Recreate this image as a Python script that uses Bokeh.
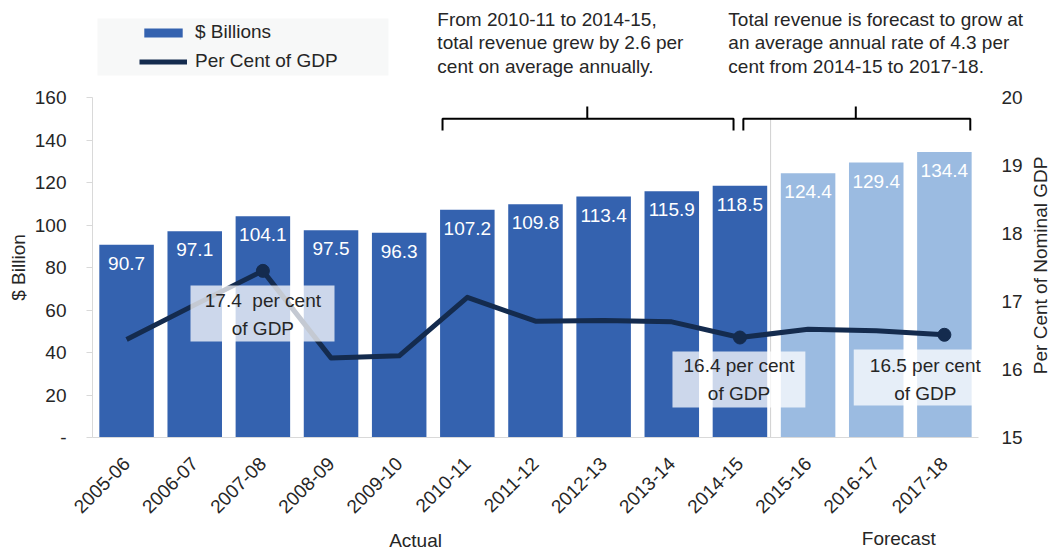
import math
from bokeh.plotting import figure
from bokeh.models import (Range1d, LinearAxis, FixedTicker, ColumnDataSource,
                          Legend, LegendItem)
from bokeh.core.properties import value
from bokeh.embed import file_html
from bokeh.resources import INLINE

# ---------------- data ----------------
years = ["2005-06", "2006-07", "2007-08", "2008-09", "2009-10", "2010-11", "2011-12",
         "2012-13", "2013-14", "2014-15", "2015-16", "2016-17", "2017-18"]
revenue = [90.7, 97.1, 104.1, 97.5, 96.3, 107.2, 109.8, 113.4, 115.9, 118.5, 124.4, 129.4, 134.4]
pct_gdp = [16.44, 16.95, 17.45, 16.17, 16.20, 17.06, 16.71, 16.72, 16.70, 16.47, 16.59, 16.57, 16.51]
forecast = [False] * 10 + [True] * 3
left_ticks = [0, 20, 40, 60, 80, 100, 120, 140, 160]
right_ticks = [15, 16, 17, 18, 19, 20]
marked_points = [2, 9, 12]
box_texts = ["17.4\u00a0 per cent\nof GDP", "16.4 per cent\nof GDP", "16.5 per cent\nof GDP"]
note_texts = ["From 2010-11 to 2014-15,\ntotal revenue grew by 2.6 per\ncent on average annually.",
              "Total revenue is forecast to grow at\nan average annual rate of 4.3 per\ncent from 2014-15 to 2017-18."]
section_labels = ["Actual", "Forecast"]
left_title = "$ Billion"
right_title = "Per Cent of Nominal GDP"

# ---------------- style ----------------
FONT = "Liberation Sans"
TXT = "#262626"
ACTUAL = "#3462AF"
FCAST = "#9BBBE1"
NAVY = "#142B4E"
GRID = "#D9D9D9"
FS = "19px"

x = list(range(len(years)))
src = ColumnDataSource(dict(
    x=x, revenue=revenue, pct=pct_gdp,
    color=[FCAST if f else ACTUAL for f in forecast],
    label=[f"{v:.1f}" for v in revenue],
))

# frame covers the whole canvas; axes are pinned with fixed_location
p = figure(width=1050, height=554, output_backend="svg", toolbar_location=None,
           x_range=Range1d(-1.85, 13.557), y_range=Range1d(-55.06, 205.65),
           min_border=0, background_fill_color="white")
p.outline_line_color = None
p.xgrid.visible = False
p.ygrid.visible = False
p.extra_y_ranges = {"pct": Range1d(13.279, 21.426)}

# left axis
ya = p.yaxis[0]
ya.fixed_location = -0.5
ya.ticker = FixedTicker(ticks=left_ticks)
ya.major_label_overrides = {0: "-"}
ya.bounds = (0, 160)
ya.axis_line_color = GRID
ya.major_tick_line_color = GRID
ya.major_tick_out = 6
ya.major_tick_in = 0
ya.minor_tick_line_color = None
ya.major_label_standoff = 20
ya.major_label_text_font = FONT
ya.major_label_text_font_size = FS
ya.major_label_text_color = TXT

# bottom axis
xa = p.xaxis[0]
xa.fixed_location = 0
xa.bounds = (-0.5, 12.5)
xa.ticker = FixedTicker(ticks=x)
xa.major_label_overrides = {i: y for i, y in enumerate(years)}
xa.major_label_orientation = math.pi / 4
xa.axis_line_color = GRID
xa.major_tick_line_color = None
xa.minor_tick_line_color = None
xa.major_label_standoff = 17
xa.major_label_text_font = FONT
xa.major_label_text_font_size = FS
xa.major_label_text_color = TXT

# right axis
ra = LinearAxis(y_range_name="pct", ticker=FixedTicker(ticks=right_ticks),
                fixed_location=12.5, bounds=(15, 20))
ra.axis_line_color = None
ra.major_tick_line_color = None
ra.minor_tick_line_color = None
ra.major_label_standoff = 17
ra.major_label_text_font = FONT
ra.major_label_text_font_size = FS
ra.major_label_text_color = TXT
p.add_layout(ra, "right")

# legend background panel
p.quad(left=[-0.427], right=[3.843], top=[197.2], bottom=[170.4],
       fill_color="#F7F8F8", line_color=None)

# separator between actual and forecast
p.segment(x0=[9.45], y0=[0], x1=[9.45], y1=[150], line_color="#D0D0D0", line_width=1)

# bars
bars = p.vbar(x="x", top="revenue", width=0.8, fill_color="color", line_color=None, source=src)
p.text(x="x", y="revenue", text="label", source=src, text_color="white",
       text_align="center", text_baseline="top", y_offset=12,
       text_font=value(FONT), text_font_size=FS)

# line
line = p.line(x="x", y="pct", y_range_name="pct", source=src, line_color=NAVY,
              line_width=5, line_join="round")

# annotation boxes (drawn over the line)
p.quad(left=[0.938, 8.01, 10.67], right=[3.051, 9.96, 12.71],
       top=[71.5, 40.5, 41.4], bottom=[45.2, 14.1, 15.1],
       fill_color="white", fill_alpha=0.75, line_color=None)
p.text(x=[2.0, 8.986, 11.72], y=[57.9, 27.3, 27.2], text=box_texts,
       text_color=TXT, text_align="center", text_baseline="middle",
       text_font=value(FONT), text_font_size=FS, text_line_height=1.35)

# markers
p.scatter(x=[x[i] for i in marked_points], y=[pct_gdp[i] for i in marked_points],
          y_range_name="pct", size=13, fill_color=NAVY, line_color=NAVY)

# brackets
bl, br, bm = [4.636, 9.05], [8.906, 12.38], [6.76, 10.70]
xs, ys = [], []
for l, r, m in zip(bl, br, bm):
    xs.append([l, l, r, r]); ys.append([144.5, 150, 150, 144.5])
    xs.append([m, m]); ys.append([150, 155.8])
p.multi_line(xs=xs, ys=ys, line_color="black", line_width=2)

# notes
p.text(x=[4.56, 8.83], y=[201.8, 201.8], text=note_texts, text_color=TXT,
       text_align="left", text_baseline="top", text_font=value(FONT),
       text_font_size=FS, text_line_height=1.13)

# axis titles and section labels
p.text(x=[-1.586], y=[80], text=[left_title], angle=math.pi / 2, text_color=TXT,
       text_align="center", text_baseline="middle", text_font=value(FONT), text_font_size=FS)
p.text(x=[13.41], y=[81], text=[right_title], angle=math.pi / 2, text_color=TXT,
       text_align="center", text_baseline="middle", text_font=value(FONT), text_font_size=FS)
p.text(x=[4.24, 11.33], y=[-48.5, -47.5], text=section_labels, text_color=TXT,
       text_align="center", text_baseline="middle", text_font=value(FONT), text_font_size=FS)

# legend
legend = Legend(items=[LegendItem(label="$ Billions", renderers=[bars]),
                       LegendItem(label="Per Cent of GDP", renderers=[line])],
                location=(139, 482), margin=0, padding=8, spacing=7,
                glyph_width=48, glyph_height=11, label_height=22,
                label_standoff=8, background_fill_alpha=0.0, border_line_color=None,
                label_text_font=FONT, label_text_font_size=FS,
                label_text_color=TXT)
p.add_layout(legend)

open("out.html", "w").write(file_html(p, INLINE))
